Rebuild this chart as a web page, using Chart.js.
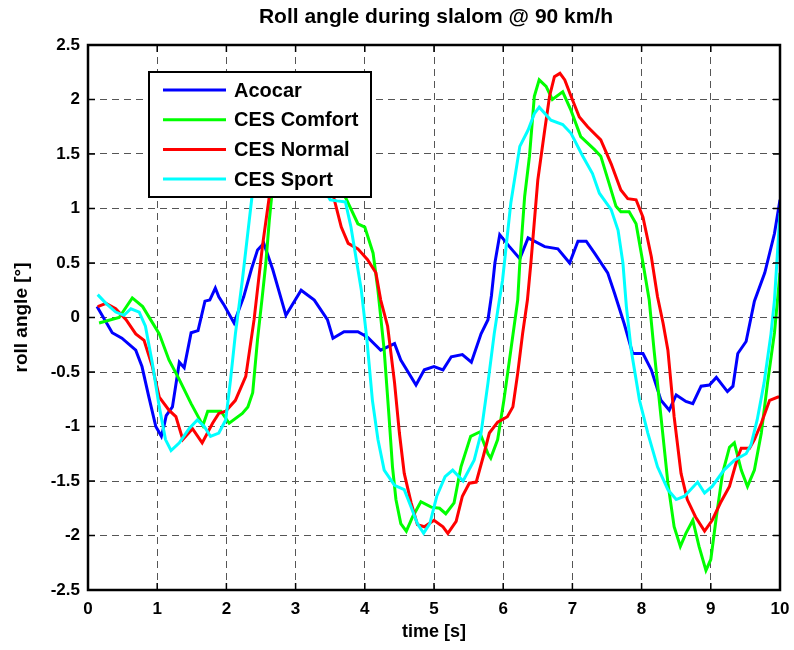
<!DOCTYPE html>
<html>
<head>
<meta charset="utf-8">
<script src="https://cdn.jsdelivr.net/npm/chart.js@4/dist/chart.umd.min.js"></script>
<style>
  body { margin: 0; background: #fff; }
</style>
</head>
<body>
<canvas id="chart_roll" width="794" height="650"></canvas>
<script>
const acocarTime = [0.13,0.35,0.49,0.69,0.78,0.88,0.98,1.06,1.10,1.13,
  1.22,1.32,1.39,1.49,1.59,1.69,1.76,1.84,1.89,1.97,
  2.11,2.25,2.36,2.45,2.54,2.67,2.86,3.08,3.27,3.46,
  3.54,3.70,3.90,4.04,4.23,4.43,4.52,4.74,4.86,5.00,
  5.13,5.25,5.41,5.54,5.68,5.78,5.83,5.88,5.95,6.09,
  6.24,6.36,6.60,6.79,6.96,7.08,7.20,7.32,7.51,7.61,
  7.75,7.87,8.02,8.14,8.28,8.40,8.50,8.64,8.74,8.86,
  8.98,9.08,9.24,9.32,9.39,9.51,9.63,9.78,9.92,10.0];
const acocarRoll = [0.10,-0.14,-0.19,-0.30,-0.45,-0.73,-1.00,-1.09,-0.99,-0.90,
  -0.82,-0.41,-0.46,-0.14,-0.12,0.15,0.16,0.27,0.19,0.11,
  -0.05,0.19,0.44,0.62,0.68,0.44,0.02,0.25,0.16,-0.02,
  -0.19,-0.13,-0.13,-0.18,-0.30,-0.24,-0.39,-0.62,-0.48,-0.45,
  -0.48,-0.36,-0.34,-0.41,-0.15,-0.02,0.20,0.50,0.76,0.65,
  0.54,0.73,0.65,0.63,0.50,0.70,0.70,0.59,0.41,0.22,
  -0.06,-0.33,-0.33,-0.48,-0.76,-0.85,-0.71,-0.77,-0.79,-0.63,
  -0.62,-0.55,-0.68,-0.63,-0.33,-0.22,0.15,0.41,0.77,1.08];

const comfortTime = [0.16,0.45,0.64,0.79,1.03,1.17,1.32,1.49,1.66,1.73,
  1.92,2.04,2.23,2.31,2.38,2.45,2.52,2.57,2.62,2.66,
  2.80,3.05,3.30,3.55,3.73,3.90,4.00,4.12,4.19,4.28,
  4.35,4.40,4.45,4.52,4.60,4.69,4.81,4.96,5.08,5.17,
  5.29,5.39,5.53,5.66,5.78,5.82,5.92,6.01,6.11,6.21,
  6.24,6.31,6.38,6.45,6.52,6.62,6.71,6.86,6.98,7.12,
  7.32,7.41,7.53,7.63,7.70,7.82,7.92,8.02,8.11,8.18,
  8.28,8.38,8.47,8.56,8.64,8.74,8.83,8.93,9.00,9.08,
  9.17,9.27,9.34,9.44,9.53,9.63,9.73,9.82,9.92,10.0];
const comfortRoll = [-0.05,0.00,0.18,0.10,-0.15,-0.39,-0.57,-0.79,-0.99,-0.86,
  -0.86,-0.97,-0.88,-0.82,-0.69,-0.20,0.20,0.50,0.89,1.15,
  1.60,1.85,1.65,1.30,1.09,0.86,0.83,0.59,0.25,-0.30,
  -0.91,-1.37,-1.67,-1.89,-1.96,-1.83,-1.69,-1.74,-1.75,-1.80,
  -1.70,-1.37,-1.09,-1.05,-1.25,-1.29,-1.12,-0.76,-0.30,0.16,
  0.50,1.11,1.48,2.03,2.18,2.12,2.00,2.07,1.90,1.66,
  1.54,1.48,1.23,1.02,0.97,0.97,0.86,0.50,0.16,-0.30,
  -0.91,-1.52,-1.92,-2.10,-1.98,-1.86,-2.10,-2.32,-2.22,-1.83,
  -1.43,-1.19,-1.15,-1.40,-1.55,-1.40,-1.06,-0.60,-0.14,0.41];

const normalTime = [0.14,0.26,0.40,0.55,0.69,0.81,0.93,1.03,1.17,1.27,
  1.37,1.51,1.65,1.80,1.89,1.99,2.13,2.28,2.40,2.52,
  2.62,2.75,2.95,3.20,3.45,3.56,3.66,3.76,3.90,4.04,
  4.16,4.23,4.33,4.43,4.50,4.57,4.67,4.76,4.86,5.00,
  5.13,5.20,5.32,5.41,5.51,5.61,5.71,5.80,5.92,6.06,
  6.14,6.21,6.28,6.35,6.40,6.50,6.60,6.67,6.74,6.82,
  6.89,6.98,7.10,7.22,7.41,7.56,7.70,7.80,7.92,8.02,
  8.14,8.23,8.31,8.38,8.47,8.57,8.66,8.78,8.91,9.02,
  9.14,9.27,9.39,9.44,9.56,9.63,9.73,9.85,9.97,10.0];
const normalRoll = [0.10,0.13,0.08,-0.02,-0.15,-0.21,-0.45,-0.73,-0.85,-0.91,
  -1.12,-1.02,-1.15,-0.97,-0.88,-0.86,-0.76,-0.54,-0.02,0.65,
  1.11,1.60,1.90,1.75,1.35,1.08,0.83,0.68,0.63,0.53,
  0.41,0.16,-0.08,-0.60,-1.06,-1.43,-1.70,-1.90,-1.92,-1.86,
  -1.92,-1.98,-1.87,-1.64,-1.52,-1.51,-1.28,-1.06,-0.96,-0.91,
  -0.82,-0.51,-0.15,0.16,0.50,1.26,1.72,2.03,2.21,2.24,
  2.18,2.03,1.84,1.75,1.63,1.41,1.17,1.09,1.08,0.92,
  0.56,0.19,-0.05,-0.30,-0.91,-1.43,-1.67,-1.83,-1.96,-1.86,
  -1.70,-1.55,-1.28,-1.20,-1.20,-1.12,-0.97,-0.76,-0.73,-0.73];

const sportTime = [0.14,0.26,0.40,0.52,0.62,0.74,0.83,0.93,1.03,1.12,
  1.20,1.32,1.46,1.58,1.68,1.77,1.89,1.99,2.06,2.13,
  2.23,2.33,2.37,2.50,2.75,3.00,3.30,3.50,3.60,3.72,
  3.80,3.87,3.95,4.03,4.11,4.19,4.28,4.43,4.57,4.67,
  4.76,4.85,4.94,5.04,5.16,5.27,5.42,5.58,5.68,5.78,
  5.87,5.93,5.99,6.11,6.24,6.36,6.45,6.52,6.69,6.86,
  6.98,7.15,7.29,7.39,7.56,7.66,7.73,7.78,7.85,7.97,
  8.09,8.23,8.38,8.50,8.62,8.81,8.91,9.02,9.19,9.34,
  9.51,9.58,9.67,9.77,9.87,9.92,10.0];
const sportRoll = [0.21,0.13,0.05,0.02,0.08,0.05,-0.08,-0.42,-0.82,-1.12,
  -1.22,-1.15,-1.02,-0.94,-1.00,-1.09,-1.06,-0.94,-0.57,-0.15,
  0.34,0.89,1.11,1.50,1.75,1.60,1.30,1.08,1.07,1.06,
  0.83,0.56,0.25,-0.20,-0.76,-1.12,-1.40,-1.54,-1.58,-1.74,
  -1.89,-1.98,-1.89,-1.64,-1.46,-1.40,-1.50,-1.31,-1.06,-0.60,
  -0.15,0.10,0.34,1.05,1.57,1.72,1.87,1.93,1.81,1.77,
  1.69,1.48,1.32,1.14,0.99,0.80,0.50,0.10,-0.30,-0.76,
  -1.06,-1.37,-1.58,-1.67,-1.64,-1.51,-1.61,-1.55,-1.40,-1.31,
  -1.25,-1.17,-0.94,-0.60,-0.15,0.16,0.96];

const seriesNames = ['Acocar','CES Comfort','CES Normal','CES Sport'];
const seriesColors = ['#0000ff','#00ff00','#ff0000','#00ffff'];
const xTicks = [0,1,2,3,4,5,6,7,8,9,10];
const yTicks = [-2.5,-2,-1.5,-1,-0.5,0,0.5,1,1.5,2,2.5];

const FONT = "'Liberation Sans', Arial, Helvetica, sans-serif";

function points(t, v) {
  return t.map((x, i) => ({x: x, y: v[i]}));
}

const allSeries = [
  points(acocarTime, acocarRoll),
  points(comfortTime, comfortRoll),
  points(normalTime, normalRoll),
  points(sportTime, sportRoll)
];

const data = {
  datasets: allSeries.map((pts, i) => ({
    label: seriesNames[i],
    data: pts,
    borderColor: seriesColors[i],
    backgroundColor: seriesColors[i],
    borderWidth: 3,
    pointRadius: 0,
    showLine: true,
    tension: 0,
    order: 4 - i
  }))
};

// frame, inward ticks, title and the boxed legend (matlab look)
const matlabBox = {
  id: 'matlabBox',
  afterDatasetsDraw(chart) {
    const ctx = chart.ctx;
    const a = chart.chartArea;
    const xs = chart.scales.x, ys = chart.scales.y;
    ctx.save();
    ctx.strokeStyle = '#000';
    ctx.lineWidth = 1.5;
    ctx.beginPath();
    xTicks.forEach(t => {
      const px = xs.getPixelForValue(t);
      ctx.moveTo(px, a.bottom); ctx.lineTo(px, a.bottom - 7);
      ctx.moveTo(px, a.top); ctx.lineTo(px, a.top + 7);
    });
    yTicks.forEach(v => {
      const py = ys.getPixelForValue(v);
      ctx.moveTo(a.left, py); ctx.lineTo(a.left + 7, py);
      ctx.moveTo(a.right, py); ctx.lineTo(a.right - 7, py);
    });
    ctx.stroke();
    ctx.lineWidth = 2.5;
    ctx.strokeRect(a.left, a.top, a.right - a.left, a.bottom - a.top);

    ctx.fillStyle = '#000';
    ctx.font = 'bold 21px ' + FONT;
    ctx.textAlign = 'center';
    ctx.textBaseline = 'middle';
    ctx.fillText('Roll angle during slalom @ 90 km/h', (a.left + a.right) / 2 + 2, 17);

    // legend
    const lx = a.left + 61, ly = a.top + 27, lw = 222, lh = 125;
    ctx.font = 'bold 20px ' + FONT;
    ctx.fillStyle = '#fff';
    ctx.fillRect(lx, ly, lw, lh);
    ctx.lineWidth = 2;
    ctx.strokeStyle = '#000';
    ctx.strokeRect(lx, ly, lw, lh);
    ctx.textAlign = 'left';
    chart.data.datasets.forEach((ds, i) => {
      const ry = ly + 18 + i * 29.7;
      ctx.strokeStyle = ds.borderColor;
      ctx.lineWidth = 3;
      ctx.beginPath();
      ctx.moveTo(lx + 14, ry);
      ctx.lineTo(lx + 77, ry);
      ctx.stroke();
      ctx.fillStyle = '#000';
      ctx.fillText(ds.label, lx + 85, ry + 1);
    });
    ctx.restore();
  }
};

const chartRoll = document.getElementById('chart_roll');
const myChart = new Chart(chartRoll, {
  type: 'scatter',
  data: data,
  plugins: [matlabBox],
  options: {
    responsive: false,
    animation: false,
    layout: {
      padding: {left: 0, right: 14, top: 45, bottom: 0}
    },
    plugins: {
      legend: {display: false},
      title: {display: false},
      tooltip: {enabled: false}
    },
    scales: {
      x: {
        type: 'linear',
        min: 0,
        max: 10,
        afterFit: s => { s.height = 60; s.paddingLeft = 0; s.paddingRight = 0; },
        border: {display: false, dash: [7, 5]},
        grid: {color: '#555', lineWidth: 1, drawTicks: false},
        ticks: {
          stepSize: 1,
          padding: 9,
          color: '#000',
          font: {family: FONT, size: 17, weight: 'bold'}
        },
        title: {
          display: true,
          text: 'time [s]',
          color: '#000',
          font: {family: FONT, size: 18, weight: 'bold'},
          padding: {top: 0, bottom: 7}
        }
      },
      y: {
        min: -2.5,
        max: 2.5,
        afterFit: s => { s.width = 88; s.paddingTop = 0; s.paddingBottom = 0; },
        border: {display: false, dash: [7, 5]},
        grid: {color: '#555', lineWidth: 1, drawTicks: false},
        ticks: {
          stepSize: 0.5,
          padding: 8,
          color: '#000',
          font: {family: FONT, size: 17, weight: 'bold'},
          callback: v => String(+v.toFixed(1))
        },
        title: {
          display: true,
          text: 'roll angle [°]',
          color: '#000',
          font: {family: FONT, size: 19, weight: 'bold'},
          padding: {top: 10, bottom: 0}
        }
      }
    }
  }
});
</script>
</body>
</html>
